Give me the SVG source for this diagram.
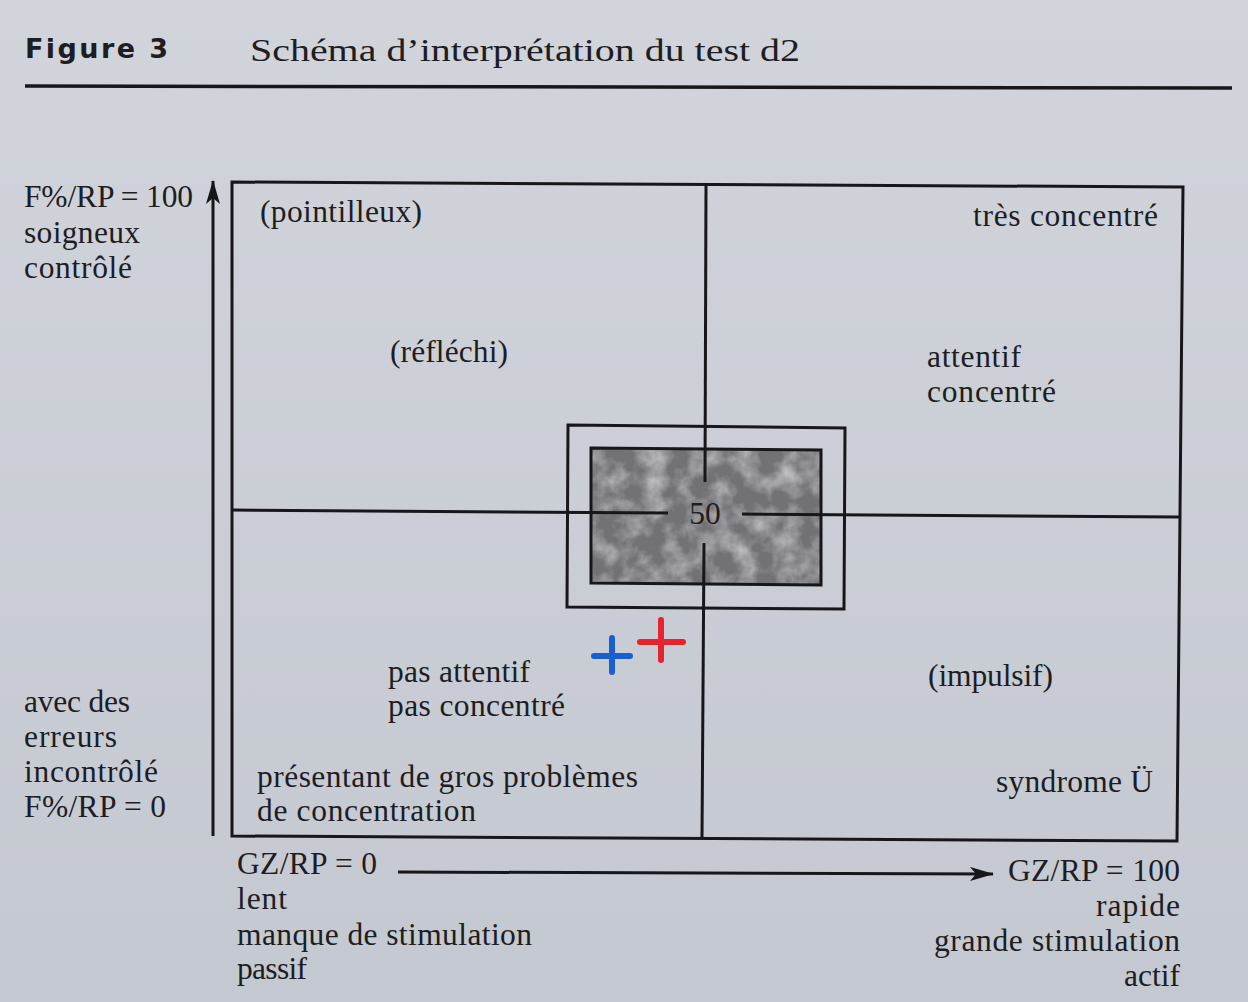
<svg xmlns="http://www.w3.org/2000/svg" width="1248" height="1002" viewBox="0 0 1248 1002">
<style>
.t{font-family:"Liberation Serif","Times New Roman",serif;font-size:31.5px;fill:#1d1d22}
.ln{stroke:#17171b;stroke-width:3;fill:none}
.ax{stroke:#17171b;stroke-width:3;fill:none}
</style>
<defs>
<marker id="ah" viewBox="0 0 24 14" refX="23" refY="7" markerWidth="24" markerHeight="14" markerUnits="userSpaceOnUse" orient="auto">
<path d="M0,0 L24,7 L0,14 L6,7 Z" fill="#17171b"/>
</marker>
<filter id="mottle" x="0" y="0" width="100%" height="100%">
<feTurbulence type="fractalNoise" baseFrequency="0.045" numOctaves="4" seed="7" result="n"/>
<feColorMatrix in="n" type="matrix" values="0 0 0 0 0.52  0 0 0 0 0.52  0 0 0 0 0.54  0 0 0 -1.8 1.15" result="c"/>
<feComposite in="c" in2="SourceGraphic" operator="in"/>
</filter>
<linearGradient id="bg" x1="0" y1="0" x2="0" y2="1">
<stop offset="0" stop-color="#d1d4db"/>
<stop offset="1" stop-color="#c4c8d0"/>
</linearGradient>
</defs>
<rect width="1248" height="1002" fill="url(#bg)"/>

<g id="title">
<text x="25" y="58" font-family="DejaVu Sans, Liberation Sans, sans-serif" font-weight="bold" font-size="27" fill="#1d1d22" textLength="143">Figure 3</text>
<text x="250" y="61" class="t" font-size="35" textLength="550" lengthAdjust="spacingAndGlyphs">Schéma d’interprétation du test d2</text>
<line x1="25" y1="86" x2="1232" y2="88" stroke="#17171b" stroke-width="3.5"/>
</g>

<g id="frame">
<path class="ln" d="M232,182 L1183,187 L1177,841 L232,836 Z"/>
</g>

<g id="center-zone">
<path d="M591,448 L821,450 L821,585 L591,583 Z" fill="#727276" stroke="none"/>
<path d="M591,448 L821,450 L821,585 L591,583 Z" fill="#ffffff" filter="url(#mottle)" stroke="none"/>
<path class="ln" d="M591,448 L821,450 L821,585 L591,583 Z"/>
<path class="ln" d="M568,425 L845,428 L844,609 L567,607 Z"/>
<text x="705" y="524" class="t" font-size="32" text-anchor="middle">50</text>
</g>

<g id="connectors">
<path class="ln" d="M232,510 L668,513"/>
<path class="ln" d="M742,514 L1180,517"/>
<path class="ln" d="M706,186 L705,482"/>
<path class="ln" d="M704,543 L702,839"/>
<line class="ax" x1="213" y1="836" x2="213" y2="181" marker-end="url(#ah)"/>
<line class="ax" x1="398" y1="872" x2="993" y2="874" marker-end="url(#ah)"/>
</g>

<g id="y-axis-top">
<text class="t" x="24" y="207" textLength="169">F%/RP = 100</text>
<text class="t" x="24" y="243" textLength="116">soigneux</text>
<text class="t" x="24" y="278" textLength="108">contrôlé</text>
</g>

<g id="y-axis-bottom">
<text class="t" x="24" y="712" textLength="106">avec des</text>
<text class="t" x="24" y="747" textLength="93">erreurs</text>
<text class="t" x="24" y="782" textLength="134">incontrôlé</text>
<text class="t" x="24" y="817" textLength="142">F%/RP = 0</text>
</g>

<g id="quadrant-top-left">
<text class="t" x="260" y="222" textLength="162">(pointilleux)</text>
<text class="t" x="390" y="362" textLength="118">(réfléchi)</text>
</g>

<g id="quadrant-top-right">
<text class="t" x="973" y="226" textLength="185">très concentré</text>
<text class="t" x="927" y="367" textLength="94">attentif</text>
<text class="t" x="927" y="402" textLength="129">concentré</text>
</g>

<g id="quadrant-bottom-left">
<text class="t" x="388" y="682" textLength="142">pas attentif</text>
<text class="t" x="388" y="716" textLength="177">pas concentré</text>
<text class="t" x="257" y="787" textLength="381">présentant de gros problèmes</text>
<text class="t" x="257" y="821" textLength="219">de concentration</text>
</g>

<g id="quadrant-bottom-right">
<text class="t" x="928" y="686" textLength="125">(impulsif)</text>
<text class="t" x="996" y="792" textLength="157">syndrome Ü</text>
</g>

<g id="x-axis-left">
<text class="t" x="237" y="874" textLength="140">GZ/RP = 0</text>
<text class="t" x="237" y="909" textLength="50">lent</text>
<text class="t" x="237" y="945" textLength="295">manque de stimulation</text>
<text class="t" x="237" y="979" textLength="70">passif</text>
</g>

<g id="x-axis-right">
<text class="t" x="1180" y="881" text-anchor="end" textLength="172">GZ/RP = 100</text>
<text class="t" x="1180" y="916" text-anchor="end" textLength="84">rapide</text>
<text class="t" x="1180" y="951" text-anchor="end" textLength="246">grande stimulation</text>
<text class="t" x="1180" y="986" text-anchor="end" textLength="56">actif</text>
</g>

<g id="marks" stroke-linecap="round" stroke-width="6" fill="none">
<path d="M594,656 L630,656 M612,638 L612,672" stroke="#1a5fd0"/>
<path d="M640,642 L683,642 M661,620 L661,660" stroke="#e5242e"/>
</g>
</svg>
